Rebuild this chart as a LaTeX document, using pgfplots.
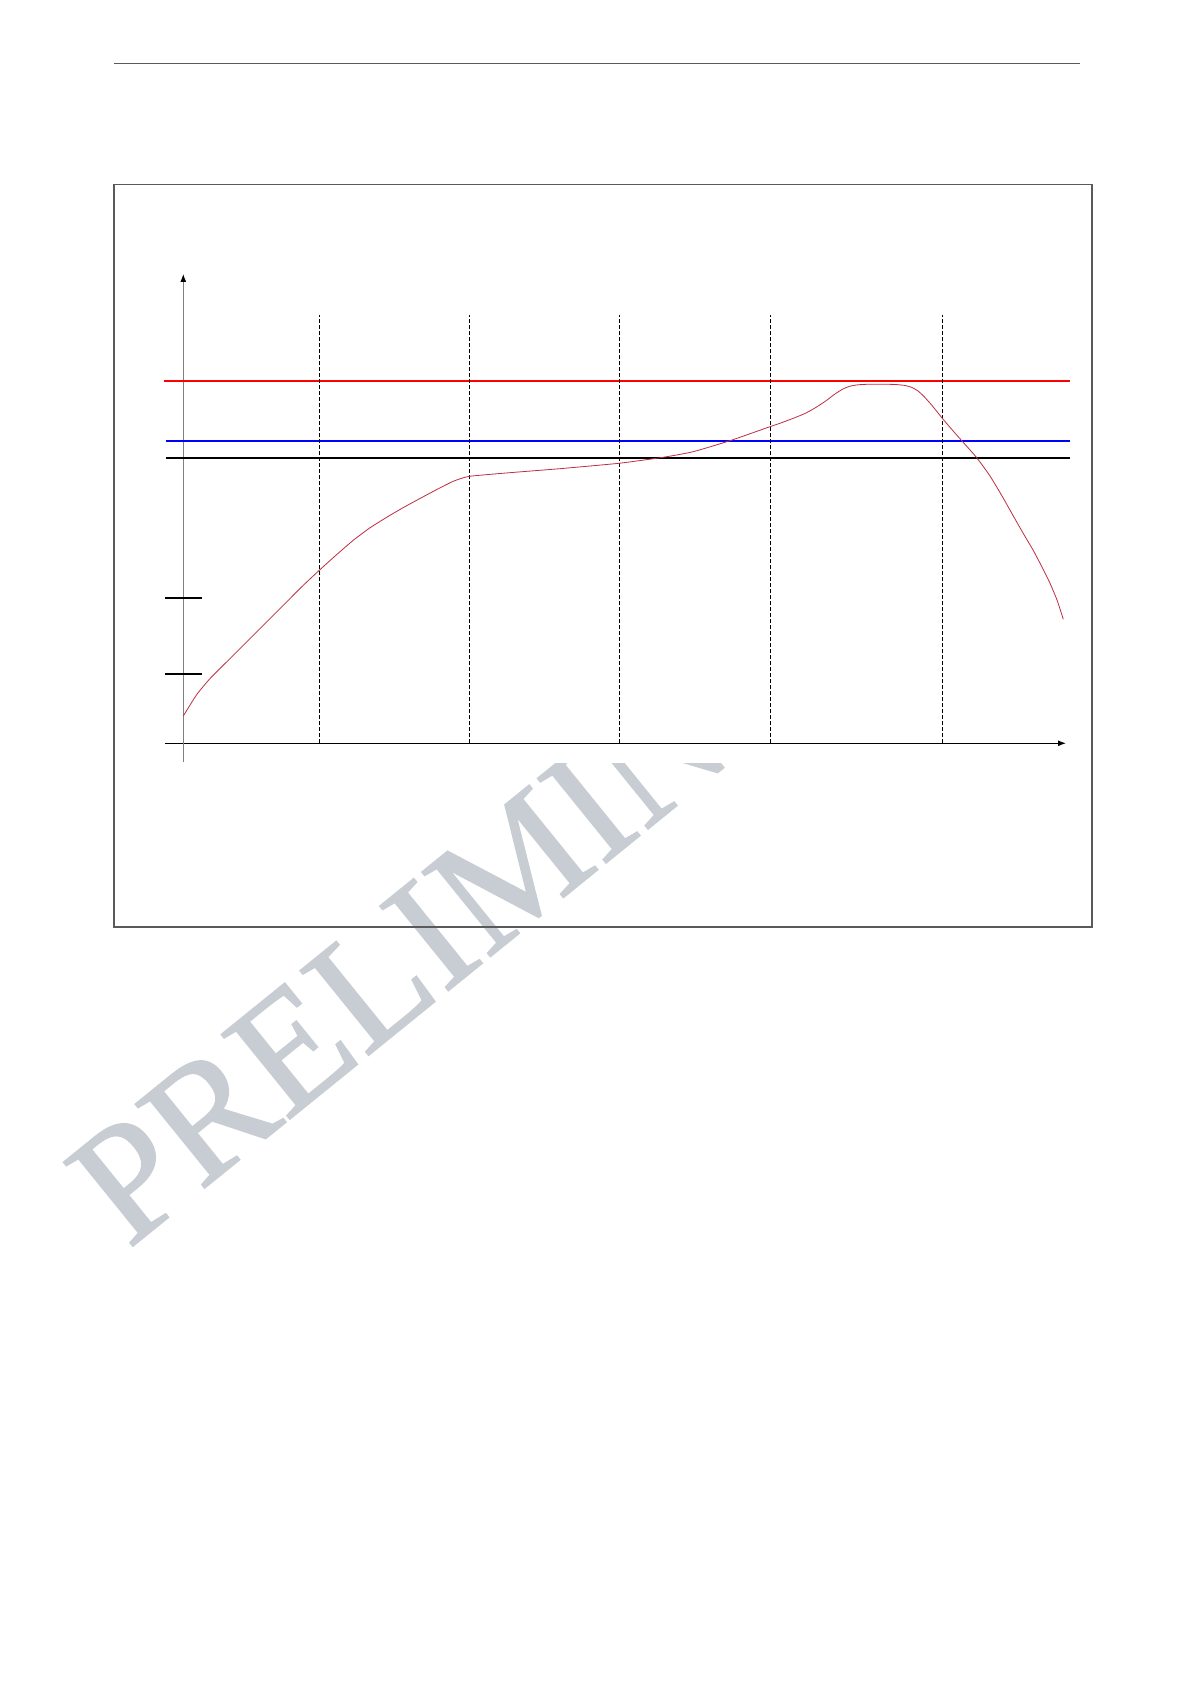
\documentclass[border=0pt]{standalone}
\usepackage{fontspec}
\setmainfont{Liberation Serif}
\newfontfamily\wmfont[FakeBold=1]{Liberation Serif}
\usepackage{pgfplots}
\pgfplotsset{compat=1.18}
\usetikzlibrary{arrows.meta}

\definecolor{wmgray}{RGB}{200,205,212}
\definecolor{curvered}{RGB}{190,45,65}
\definecolor{boxgray}{RGB}{90,90,90}

\begin{document}
\begin{tikzpicture}[x=0.5pt, y=0.5pt]
% page in pixel units, origin at the bottom left
\useasboundingbox (0,0) rectangle (1190,1684);

% header rule
\draw[boxgray, line width=0.8pt] (114,1620.5) -- (1080,1620.5);

% watermark, partly hidden by the chart's white background
\node[rotate=39, anchor=base west, inner sep=0pt, text=wmgray,
      font=\wmfont\fontsize{83}{88}\selectfont] at (128,434) {PRELIMINARY};
\fill[white] (115,1499) rectangle (1091,921);

% frame round the figure
\draw[boxgray, line width=0.6pt] (114,1499.5) rectangle (1092,757);

\begin{axis}[
	at={(165,922.3)}, anchor=south west,
	scale only axis,
	width=450.5pt, height=243.85pt,
	xmin=-1.83, xmax=88.27,
	ymin=-1.84, ymax=46.93,
	axis lines=middle,
	x axis line style={black, line width=0.6pt, -{Latex[length=4pt,width=3pt]}},
	y axis line style={gray, line width=0.5pt, -{Latex[length=4pt,width=3pt,black]}},
	ticks=none,
	clip=false,
	]

	% limit lines
	\addplot[red, line width=0.9pt] coordinates {(-1.93,36.26) (88.67,36.26)};
	\addplot[blue, line width=0.9pt] coordinates {(-1.73,30.26) (88.67,30.26)};
	\addplot[black, line width=0.9pt] coordinates {(-1.73,28.56) (88.67,28.56)};

	% phase boundaries
	\addplot[black, line width=0.45pt, dash pattern=on 2pt off 1pt] coordinates {(13.60,0) (13.60,42.83)};
	\addplot[black, line width=0.45pt, dash pattern=on 2pt off 1pt] coordinates {(28.57,0) (28.57,42.83)};
	\addplot[black, line width=0.45pt, dash pattern=on 2pt off 1pt] coordinates {(43.57,0) (43.57,42.83)};
	\addplot[black, line width=0.45pt, dash pattern=on 2pt off 1pt] coordinates {(58.67,0) (58.67,42.83)};
	\addplot[black, line width=0.45pt, dash pattern=on 2pt off 1pt] coordinates {(75.88,0) (75.88,42.83)};

	% level marks on the y axis
	\addplot[black, line width=0.9pt] coordinates {(-1.79,14.56) (1.84,14.56)};
	\addplot[black, line width=0.9pt] coordinates {(-1.79,6.96) (1.84,6.96)};

	% measured profile
	\addplot[curvered, line width=0.4pt, smooth, tension=0.3] coordinates {
		(0.00, 2.73) (1.34, 4.87) (2.67, 6.47) (4.50, 8.30) (6.34, 10.14)
		(8.34, 12.14) (10.34, 14.14) (12.00, 15.80) (13.60, 17.30) (15.34, 18.87)
		(17.00, 20.30) (18.67, 21.55) (20.34, 22.60) (22.00, 23.57) (23.67, 24.48)
		(25.34, 25.37) (27.00, 26.20) (28.57, 26.69) (32.67, 27.06) (37.67, 27.46)
		(43.57, 28.00) (48.00, 28.60) (51.00, 29.16) (54.67, 30.26) (58.67, 31.66)
		(59.67, 32.00) (61.00, 32.50) (62.17, 32.98) (63.17, 33.53) (64.17, 34.18)
		(65.17, 34.93) (65.97, 35.43) (66.67, 35.71) (67.47, 35.85) (68.47, 35.90)
		(69.67, 35.91) (71.17, 35.88) (72.17, 35.78) (72.87, 35.58) (73.47, 35.23)
		(74.07, 34.68) (74.87, 33.78) (75.90, 32.50) (76.87, 31.36) (77.84, 30.26)
		(79.34, 28.56) (80.67, 26.73) (81.87, 24.73) (83.00, 22.73) (83.97, 21.03)
		(85.00, 19.28) (85.87, 17.63) (86.67, 16.00) (87.37, 14.33) (88.00, 12.40)
	};
\end{axis}
\end{tikzpicture}
\end{document}
